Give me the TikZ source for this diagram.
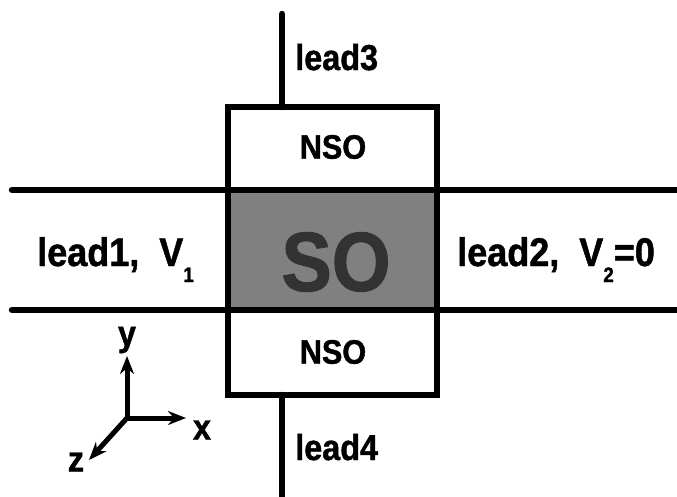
\documentclass[tikz,border=0pt]{standalone}
\usepackage{fontspec}
\setmainfont{Liberation Sans}
\newfontfamily\heavy[FakeBold=1.2,FakeStretch=0.9]{Liberation Sans Bold}
\usetikzlibrary{arrows.meta}
\newcommand{\lowsub}[1]{\raisebox{-0.4em}{\fontsize{21}{21}\selectfont #1}}
\begin{document}
\begin{tikzpicture}[x=1pt,y=-1pt,line width=6.5pt,
  big/.style={font=\heavy\fontsize{40}{44}\selectfont,inner sep=0pt},
  mid/.style={font=\heavy\fontsize{36}{40}\selectfont,inner sep=0pt},
  nso/.style={font=\heavy\fontsize{34}{36}\selectfont,inner sep=0pt},
  axis/.style={line width=5pt,-{Stealth[length=18pt,width=14pt]}},
  wire/.style={line width=6.5pt,line cap=round}]
\useasboundingbox (0,0) rectangle (677,496);
% shaded spin-orbit region
\fill[black!50] (228,190) rectangle (437,310);
\node[font=\heavy\fontsize{84}{86}\selectfont,text=black!80,inner sep=0pt] (so) at (336,262) {SO};
% coordinates
\coordinate (l1w) at (12,190);
\coordinate (l1e) at (677,190);
\coordinate (l2w) at (12,310);
\coordinate (l2e) at (677,310);
\coordinate (l3top) at (282,14);
\coordinate (l3bot) at (282,107);
\coordinate (l4top) at (282,395);
\coordinate (l4bot) at (282,500);
% box
\node[draw,line width=6.5pt,minimum width=209pt,minimum height=288pt,inner sep=0pt] (box) at (332.5,251) {};
\draw[wire] (l1w) -- (l1e);
\draw[wire] (l2w) -- (l2e);
\draw[wire] (l3top) -- (l3bot);
\draw[wire] (l4top) -- (l4bot);
% labels
\node[nso] (nsot) at (333,147) {NSO};
\node[nso] (nsob) at (333,352) {NSO};
\node[mid,anchor=base west] (lead3) at (292,70) {lead3};
\node[mid,anchor=base west] (lead4) at (292,460) {lead4};
\node[big,anchor=base west] (lead1) at (34,266) {lead1,\ \ V\lowsub{1}};
\node[big,anchor=base west] (lead2) at (454,266) {lead2,\ \ V\lowsub{2}=0};
% axes
\coordinate (o) at (127,418);
\coordinate (ytip) at (127,356);
\coordinate (xtip) at (186,418);
\coordinate (ztip) at (89,460);
\draw[axis] (o) -- (ytip);
\draw[axis] (o) -- (xtip);
\draw[axis] (o) -- (ztip);
\node[mid] (ylab) at (127,340) {y};
\node[mid] (xlab) at (202,430) {x};
\node[mid] (zlab) at (76,462) {z};
\end{tikzpicture}
\end{document}
